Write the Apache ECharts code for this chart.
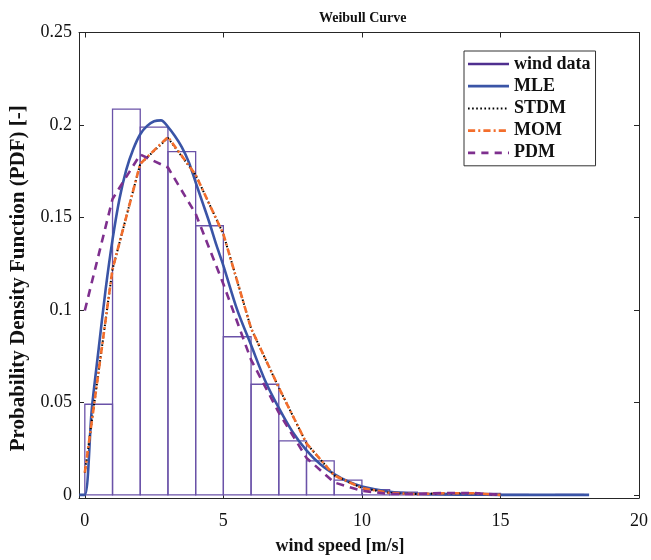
<!DOCTYPE html>
<html><head><meta charset="utf-8">
<script src="https://cdn.jsdelivr.net/npm/echarts@6/dist/echarts.min.js"></script>
<style>html,body{margin:0;padding:0;background:#fff}#c{width:651px;height:560px}</style>
</head><body><div id="c"></div>
<script>
// histogram bins (width 1 m/s)
const binEdges = [0,1,2,3,4,5,6,7,8,9,10,11,12,13,14,15,16,17,18];
const histValues = [0.049,0.2086,0.1988,0.1856,0.1455,0.0855,0.0598,0.0292,0.0184,0.0080,0.0028,0.0014,0.0008,0.0008,0.0008,0.0002,0.0001,0.0002];
// MLE curve (smooth)
const mleX = [-0.2,0,0.25,0.5,0.75,1,1.25,1.5,1.75,2,2.25,2.5,2.75,3,3.25,3.5,3.75,4,4.25,4.5,4.75,5,5.5,6,6.5,7,7.5,8,8.5,9,9.5,10,11,12,13,14,15,16,18.2];
const mleY = [0,0,0.046,0.079,0.111,0.138,0.160,0.176,0.187,0.195,0.1995,0.202,0.2025,0.199,0.194,0.188,0.180,0.169,0.158,0.147,0.135,0.124,0.100,0.081,0.062,0.047,0.034,0.024,0.0165,0.0112,0.0072,0.0045,0.0017,0.0006,0.0002,0.0001,0,0,0];
// STDM / MOM / PDM evaluated at integer wind speeds
const fitX = [0,1,2,3,4,5,6,7,8,9,10,11,12,13,14,15];
const stdmY = [0.012,0.122,0.179,0.193,0.173,0.141,0.090,0.058,0.0278,0.0105,0.0037,0.0010,0.0004,0.0009,0.0009,0];
const momY  = [0.012,0.122,0.179,0.1935,0.173,0.141,0.090,0.058,0.0278,0.0105,0.0037,0.0010,0.0004,0.0009,0.0009,0];
const pdmY  = [0.0997,0.160,0.184,0.177,0.152,0.114,0.073,0.0445,0.020,0.0067,0.0022,0.0005,0.0005,0.0010,0.0010,0];
const xTicks = [0,5,10,15,20];
const yTicks = [0,0.05,0.1,0.15,0.2,0.25];

const serif = 'Liberation Serif';
const pairs = (xs, ys) => xs.map((x,i)=>[x, ys[i]]);
const histData = histValues.map((v,i)=>[binEdges[i], binEdges[i+1], v]);

// legend line icon built from a dash pattern (style only)
function dashIcon(pattern, thick, total) {
  let s = 'path://', x = 0, k = 0;
  while (x < total) {
    const on = Math.min(pattern[k % pattern.length], total - x);
    if (k % 2 === 0 && on > 0) s += 'M' + x + ',0h' + on + 'v' + thick + 'h-' + on + 'Z';
    x += pattern[k % pattern.length]; k++;
  }
  return s + 'M' + total + ',0h0.01v0.01h-0.01Z';
}
const C = {hist:'#6a52a8', histLeg:'#4f2f8f', mle:'#3a54a6', stdm:'#000', mom:'#f36e2c', pdm:'#7e2f8e'};

const axisCommon = {
  type:'value', splitLine:{show:false},
  axisLine:{show:true, onZero:false, lineStyle:{color:'#262626', width:1}},
  axisTick:{show:true, inside:true, length:5, lineStyle:{color:'#262626'}}
};
const chart = echarts.init(document.getElementById('c'), null, {renderer:'canvas'});
chart.setOption({
  animation:false,
  backgroundColor:'#fff',
  title:{text:'Weibull Curve', left:314, top:6,
    textStyle:{fontFamily:serif, fontWeight:'bold', fontSize:14, color:'#111'}},
  grid:{left:76, right:11, top:32.5, bottom:60.7, containLabel:false},
  legend:{orient:'vertical', left:464, top:51, itemWidth:41, itemHeight:14, itemGap:4.2,
    padding:[4,5,4,4], borderColor:'#333', borderWidth:1, backgroundColor:'#fff',
    textStyle:{fontFamily:serif, fontWeight:'bold', fontSize:18, color:'#111'},
    data:[
      {name:'wind data', icon:dashIcon([40,0],2.2,40), itemStyle:{color:C.histLeg}},
      {name:'MLE', icon:dashIcon([40,0],2.6,40), itemStyle:{color:C.mle}},
      {name:'STDM', icon:dashIcon([1.6,2.4],2,40), itemStyle:{color:C.stdm}},
      {name:'MOM', icon:dashIcon([7,3,2,3],2.6,40), itemStyle:{color:C.mom}},
      {name:'PDM', icon:dashIcon([7,6],2.6,40), itemStyle:{color:C.pdm}}]},
  xAxis:[
    Object.assign({}, axisCommon, {min:-0.21, max:20, position:'bottom',
      axisTick:Object.assign({}, axisCommon.axisTick, {customValues:xTicks}),
      axisLabel:{customValues:xTicks, fontFamily:serif, fontSize:18, color:'#111', margin:14},
      name:'wind speed [m/s]', nameLocation:'middle', nameGap:39,
      nameTextStyle:{fontFamily:serif, fontWeight:'bold', fontSize:18, color:'#111', padding:[0,38,0,0]}}),
    Object.assign({}, axisCommon, {min:-0.21, max:20, position:'top',
      axisTick:Object.assign({}, axisCommon.axisTick, {customValues:xTicks}),
      axisLabel:{show:false}})
  ],
  yAxis:[
    Object.assign({}, axisCommon, {min:-0.0017, max:0.25, position:'left',
      axisTick:Object.assign({}, axisCommon.axisTick, {customValues:yTicks}),
      axisLabel:{customValues:yTicks, fontFamily:serif, fontSize:18, color:'#111', margin:7},
      name:'Probability Density Function (PDF) [-]', nameLocation:'middle', nameGap:50,
      nameTextStyle:{fontFamily:serif, fontWeight:'bold', fontSize:21, color:'#111', padding:[0,26,0,0]}}),
    Object.assign({}, axisCommon, {min:-0.0017, max:0.25, position:'right',
      axisTick:Object.assign({}, axisCommon.axisTick, {customValues:yTicks}),
      axisLabel:{show:false}})
  ],
  series:[
    {name:'wind data', type:'custom', data:histData, encode:{x:[0,1], y:2}, z:1,
      itemStyle:{color:C.hist},
      renderItem:function(params, api){
        const p0 = api.coord([api.value(0), 0]);
        const p1 = api.coord([api.value(1), api.value(2)]);
        return {type:'rect', shape:{x:p0[0], y:p1[1], width:p1[0]-p0[0], height:p0[1]-p1[1]},
          style:{fill:'none', stroke:C.hist, lineWidth:1.3}};
      }},
    {name:'MLE', type:'line', data:pairs(mleX, mleY), symbol:'none', smooth:0.3, z:2,
      lineStyle:{color:C.mle, width:2.6}, itemStyle:{color:C.mle}},
    {name:'STDM', type:'line', data:pairs(fitX, stdmY), symbol:'none', z:3,
      lineStyle:{color:C.stdm, width:2, type:[1.5,2.5]}, itemStyle:{color:C.stdm}},
    {name:'MOM', type:'line', data:pairs(fitX, momY), symbol:'none', z:4,
      lineStyle:{color:C.mom, width:2.6, type:[7,3,2,3]}, itemStyle:{color:C.mom}},
    {name:'PDM', type:'line', data:pairs(fitX, pdmY), symbol:'none', z:5,
      lineStyle:{color:C.pdm, width:2.6, type:[8,6]}, itemStyle:{color:C.pdm}}
  ]
});
</script></body></html>
